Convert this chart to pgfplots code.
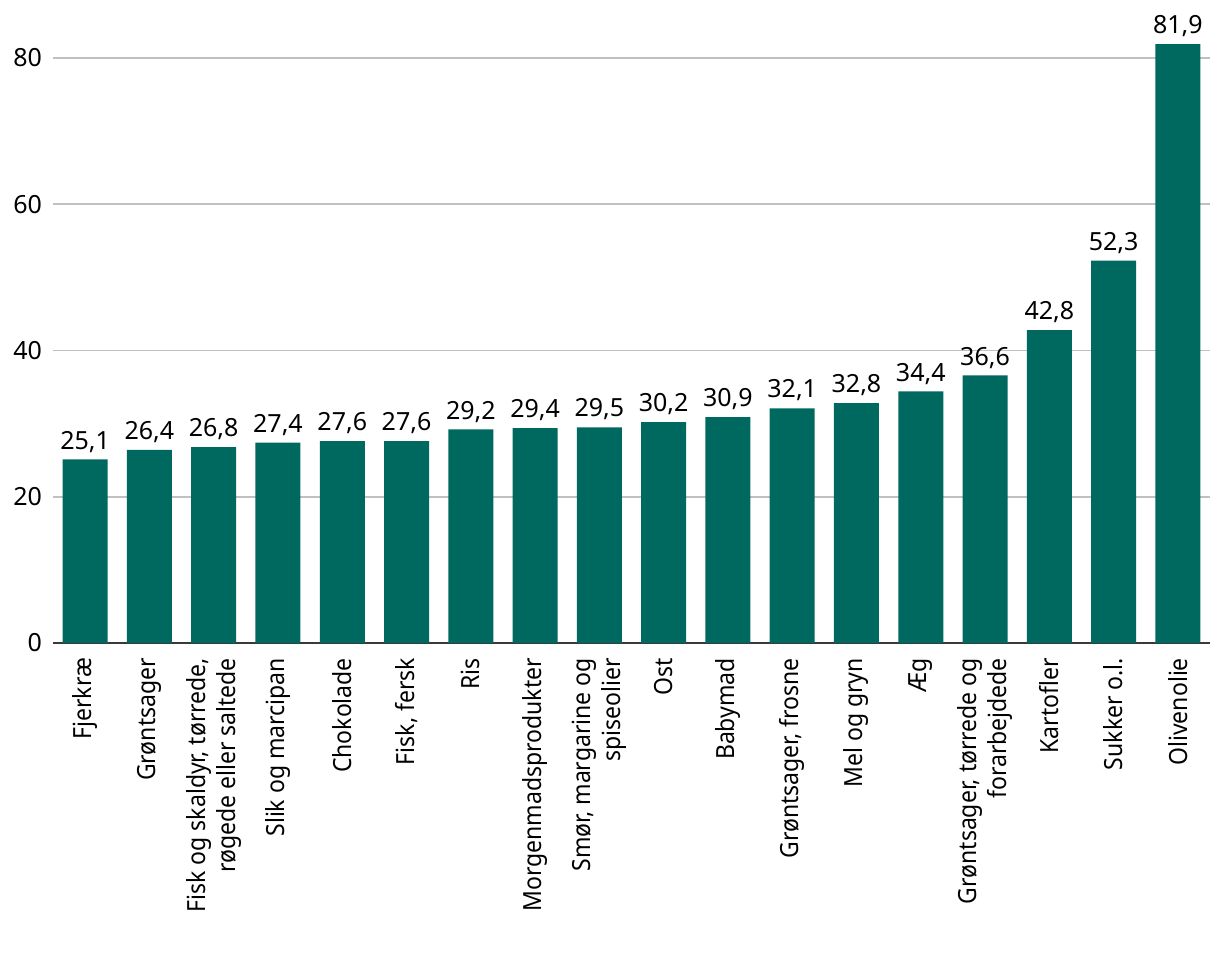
\documentclass[border=0pt]{standalone}
\usepackage{pgfplots}
\pgfplotsset{compat=1.18}
\usepackage{fontspec}
\setmainfont{Noto Sans}
\newfontfamily\labelfont[FakeStretch=0.92]{Noto Sans}
\definecolor{barcol}{HTML}{00695F}
\definecolor{gridcol}{HTML}{C0C0C0}
\definecolor{axcol}{HTML}{3A3A3A}
\begin{document}
\begin{tikzpicture}
\begin{axis}[
  scale only axis, width=578.5pt, height=310.8pt,
  xmin=-0.5, xmax=17.5, ymin=0, ymax=85,
  ybar, bar width=22.5pt, clip=false,
  axis x line*=bottom, axis y line*=left,
  y axis line style={draw=none},
  x axis line style={draw=axcol, line width=1pt},
  major tick length=0pt,
  ytick={0,20,40,60,80},
  ymajorgrids, grid style={draw=gridcol, line width=0.9pt},
  xtick={0,...,17},
  xticklabels={{Fjerkræ},{Grøntsager},{Fisk og skaldyr, tørrede,\\røgede eller saltede},{Slik og marcipan},{Chokolade},{Fisk, fersk},{Ris},{Morgenmadsprodukter},{Smør, margarine og\\spiseolier},{Ost},{Babymad},{Grøntsager, frosne},{Mel og gryn},{Æg},{Grøntsager, tørrede og\\forarbejdede},{Kartofler},{Sukker o.l.},{Olivenolie}},
  /pgf/number format/assume math mode=true,
  tick label style={font=\fontsize{12.5}{15}\selectfont},
  xticklabel style={rotate=90, anchor=east, align=right, xshift=-4pt, font=\labelfont\fontsize{12.5}{15}\selectfont},
  yticklabel style={xshift=-2pt},
  nodes near coords={\pgfmathprintnumber[fixed,fixed zerofill,precision=1,use comma,assume math mode=true]{\pgfplotspointmeta}},
  every node near coord/.append style={font=\fontsize{12.5}{15}\selectfont, black},
]
\addplot[fill=barcol, draw=none] coordinates {
(0,25.1) (1,26.4) (2,26.8) (3,27.4) (4,27.6) (5,27.6) (6,29.2) (7,29.4) (8,29.5)
(9,30.2) (10,30.9) (11,32.1) (12,32.8) (13,34.4) (14,36.6) (15,42.8) (16,52.3) (17,81.9)};
\end{axis}
\pgfresetboundingbox
\path[use as bounding box] ([shift={(-26.5pt,-165.5pt)}]current axis.south west) rectangle ([shift={(5pt,10.7pt)}]current axis.north east);
\end{tikzpicture}
\end{document}
